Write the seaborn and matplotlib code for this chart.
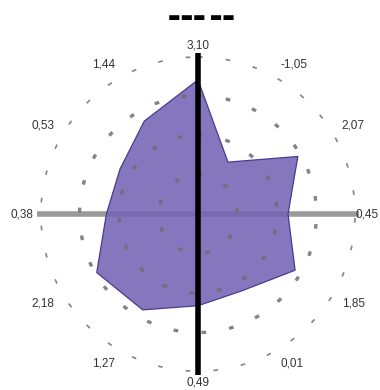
import numpy as np
import pandas as pd
import matplotlib
matplotlib.use("Agg")
import matplotlib.pyplot as plt
from matplotlib import font_manager
import seaborn as sns

# ---- data ----
labels = ["3,10", "-1,05", "2,07", "0,45", "1,85", "0,01",
          "0,49", "1,27", "2,18", "0,38", "0,53", "1,44"]
values = [0.85, 0.38, 0.73, 0.57, 0.71, 0.56,
          0.58, 0.70, 0.74, 0.58, 0.57, 0.68]
grid_levels = [0.25, 0.5, 0.75, 1.0]
title_text = "▬▬▬ ▬▬"

sns.set_theme(style="white")
names = {f.name for f in font_manager.fontManager.ttflist}
fam = "Liberation Sans Narrow" if "Liberation Sans Narrow" in names else "Liberation Sans"
plt.rcParams["font.family"] = [fam, "DejaVu Sans"]

n = len(labels)
theta = np.arange(n) * 2 * np.pi / n
df = pd.DataFrame({"theta": np.append(theta, theta[0] + 2 * np.pi),
                   "r": values + [values[0]]})

fig = plt.figure(figsize=(3.8, 3.9), dpi=100)
ax = fig.add_axes([0.105, 0.046, 0.832, 0.810], projection="polar")
ax.set_theta_zero_location("N")
ax.set_theta_direction(-1)
ax.set_ylim(0, 1)
ax.grid(False)
ax.set_xticks([])
ax.set_yticks([])
ax.spines["polar"].set_visible(False)

# horizontal gray axis (under the fill)
ax.plot([np.pi / 2, np.pi / 2], [0, 1.02], color="#9a9a9a", lw=4, zorder=1,
        solid_capstyle="butt", clip_on=False)
ax.plot([3 * np.pi / 2, 3 * np.pi / 2], [0, 1.02], color="#9a9a9a", lw=4, zorder=1,
        solid_capstyle="butt", clip_on=False)

# filled polygon
ax.fill(df["theta"], df["r"], color="#7463b5", alpha=0.88, zorder=2, lw=0)
sns.lineplot(data=df, x="theta", y="r", sort=False, ax=ax, color="#4a3c8c",
             lw=0.9, zorder=3, estimator=None)
ax.set_xlabel("")
ax.set_ylabel("")

# sparse dotted grid rings
tt = np.linspace(0, 2 * np.pi, 400)
for g in grid_levels:
    ax.plot(tt, np.full_like(tt, g), color="#6e6e6e", lw=2.4,
            linestyle=(0, (1.4, 7)), zorder=4, alpha=0.85)

# vertical black axis
ax.plot([0, 0], [0, 1.02], color="black", lw=4, zorder=5,
        solid_capstyle="butt", clip_on=False)
ax.plot([np.pi, np.pi], [0, 1.02], color="black", lw=4, zorder=5,
        solid_capstyle="butt", clip_on=False)

# category labels
for i, (t, lab) in enumerate(zip(theta, labels)):
    s, c = np.sin(t), np.cos(t)
    ha = "center" if abs(s) < 1e-6 else ("left" if s > 0 else "right")
    va = "center" if abs(c) < 1e-6 else ("bottom" if c > 0 else "top")
    if abs(c) < 1e-6:
        r = 0.995 if s > 0 else 1.04
    elif abs(s) < 1e-6:
        r = 1.03
    else:
        r = 1.05
    ax.text(t, r, lab, ha=ha, va=va, fontsize=8.5, color="#333333",
            clip_on=False, zorder=6)

fig.text(0.53, 0.955, title_text, ha="center", va="center", fontsize=9.5,
         color="black", family=["DejaVu Sans"])

fig.savefig("out.png", dpi=100, facecolor="white")
